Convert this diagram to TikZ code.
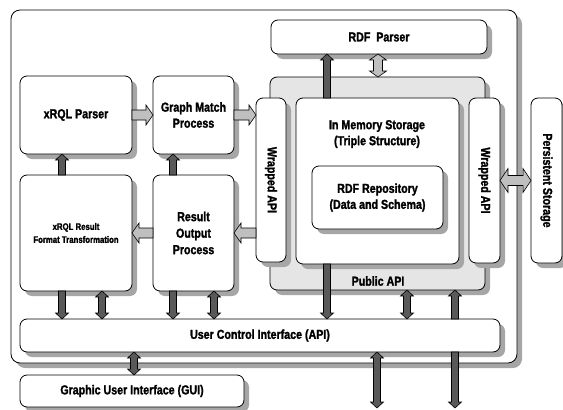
\documentclass[tikz,border=0pt]{standalone}
\usepackage{fontspec}
\setmainfont{Liberation Sans}[FakeStretch=0.82, BoldFeatures={FakeBold=1.6}]
\usetikzlibrary{calc,shadows}
\newcommand\lblfont{\bfseries\fontsize{13}{16}\selectfont}
\newcommand\smlfont{\bfseries\fontsize{9.5}{13}\selectfont}
% single block arrow: style, shaft half width, head half width, head length, from, to
\newcommand\blkarrow[6]{%
  \draw[#1] let \p1=(#5), \p2=(#6), \p3=($(\p2)!#4!(\p1)$) in
  ($(\p1)!#2!90:(\p2)$) -- ($(\p3)!#2!90:(\p2)$) -- ($(\p3)!#3!90:(\p2)$) -- (\p2)
  -- ($(\p3)!#3!-90:(\p2)$) -- ($(\p3)!#2!-90:(\p2)$) -- ($(\p1)!#2!-90:(\p2)$) -- cycle;}
% double block arrow
\newcommand\blkdarrow[6]{%
  \draw[#1] let \p1=(#5), \p2=(#6), \p3=($(\p2)!#4!(\p1)$), \p4=($(\p1)!#4!(\p2)$) in
  (\p1) -- ($(\p4)!#3!90:(\p2)$) -- ($(\p4)!#2!90:(\p2)$) -- ($(\p3)!#2!90:(\p2)$)
  -- ($(\p3)!#3!90:(\p2)$) -- (\p2) -- ($(\p3)!#3!-90:(\p2)$) -- ($(\p3)!#2!-90:(\p2)$)
  -- ($(\p4)!#2!-90:(\p2)$) -- ($(\p4)!#3!-90:(\p2)$) -- cycle;}
\newcommand\darkone[2]{\blkarrow{darr}{3.5pt}{6.5pt}{6pt}{#1}{#2}}
\newcommand\darktwo[2]{\blkdarrow{darr}{3.5pt}{6.5pt}{6pt}{#1}{#2}}
\newcommand\lightone[2]{\blkarrow{larr}{5pt}{10pt}{7pt}{#1}{#2}}
\tikzset{
  box/.style={draw=black, line width=0.8pt, fill=white, rounded corners=7pt,
    inner sep=0pt, outer sep=0pt, anchor=north west, align=center, font=\lblfont,
    drop shadow={shadow xshift=5pt, shadow yshift=-5pt, fill=black!35, opacity=1}},
  lbl/.style={font=\lblfont, align=center, inner sep=0pt},
  darr/.style={fill=black!65, draw=black, line width=0.6pt},
  larr/.style={fill=black!25, draw=black, line width=0.6pt}
}
\begin{document}
\begin{tikzpicture}[x=1pt,y=-1pt]
\useasboundingbox (0,0) rectangle (563,410);
% containers
\node[box, minimum width=506pt, minimum height=353pt, rounded corners=9pt] (frame) at (11,10) {};
\node[box, minimum width=216pt, minimum height=34pt] (rdfp) at (271,20) {RDF\ \ Parser};
\node[box, fill=black!10, minimum width=215pt, minimum height=213pt] (panel) at (270,77) {};
\node[lbl] (pubapi) at (378,281) {Public API};
\node[box, minimum width=30pt, minimum height=164pt] (wapl) at (256,98) {};
\node[lbl, rotate=-90] (wapltxt) at (wapl.center) {Wrapped API};
\node[box, minimum width=163pt, minimum height=166pt] (ims) at (296,98) {};
\node[lbl] (imstxt) at (377,134) {In Memory Storage\\(Triple Structure)};
\node[box, minimum width=131pt, minimum height=63pt] (rrep) at (312,166) {RDF Repository\\(Data and Schema)};
\node[box, minimum width=31pt, minimum height=165pt] (wapr) at (469,98) {};
\node[lbl, rotate=-90] (waprtxt) at (wapr.center) {Wrapped API};
\node[box, minimum width=31pt, minimum height=165pt] (pst) at (531,98) {};
\node[lbl, rotate=-90] (psttxt) at (pst.center) {Persistent Storage};
% left blocks
\node[box, minimum width=112pt, minimum height=78pt] (xrp) at (20,76) {xRQL Parser};
\node[box, minimum width=81pt, minimum height=78pt] (gmp) at (153,76) {Graph Match\\Process};
\node[box, minimum width=112pt, minimum height=116pt, font=\smlfont] (xrf) at (20,175) {xRQL Result\\Format Transformation};
\node[box, minimum width=81pt, minimum height=116pt, font=\bfseries\fontsize{13}{16.5}\selectfont] (rop) at (153,175) {Result\\Output\\Process};
\node[box, minimum width=480pt, minimum height=33pt] (uci) at (20,319) {User Control Interface (API)};
\node[box, minimum width=224pt, minimum height=32pt] (gui) at (20,375) {Graphic User Interface (GUI)};
% arrow columns
\foreach \cx in {62,102,134,173,214,327,377,378,407,455}
  \coordinate (c\cx) at (\cx,0);
\coordinate (out1) at (377,408);
\coordinate (out2) at (455,408);
% light arrows
\lightone{xrp.east}{gmp.west}
\lightone{gmp.east}{gmp.east -| wapl.west}
\lightone{rop.west}{xrf.east}
\lightone{rop.east -| wapl.west}{rop.east}
\blkdarrow{larr}{4.5pt}{8.5pt}{6pt}{rdfp.south -| c378}{panel.north -| c378}
\blkdarrow{larr}{5pt}{12pt}{8pt}{wapr.east}{pst.west}
% dark arrows
\darkone{xrf.north -| c62}{xrp.south -| c62}
\darkone{rop.north -| c173}{gmp.south -| c173}
\darkone{xrf.south -| c62}{uci.north -| c62}
\darktwo{xrf.south -| c102}{uci.north -| c102}
\darkone{rop.south -| c173}{uci.north -| c173}
\darktwo{rop.south -| c214}{uci.north -| c214}
\darkone{ims.south -| c327}{uci.north -| c327}
\darktwo{panel.south -| c407}{uci.north -| c407}
\darkone{uci.north -| c455}{panel.south -| c455}
\darkone{ims.north -| c327}{rdfp.south -| c327}
\darktwo{uci.south -| c134}{gui.north -| c134}
\darktwo{uci.south -| c377}{out1}
\darkone{uci.south -| c455}{out2}
\end{tikzpicture}
\end{document}
